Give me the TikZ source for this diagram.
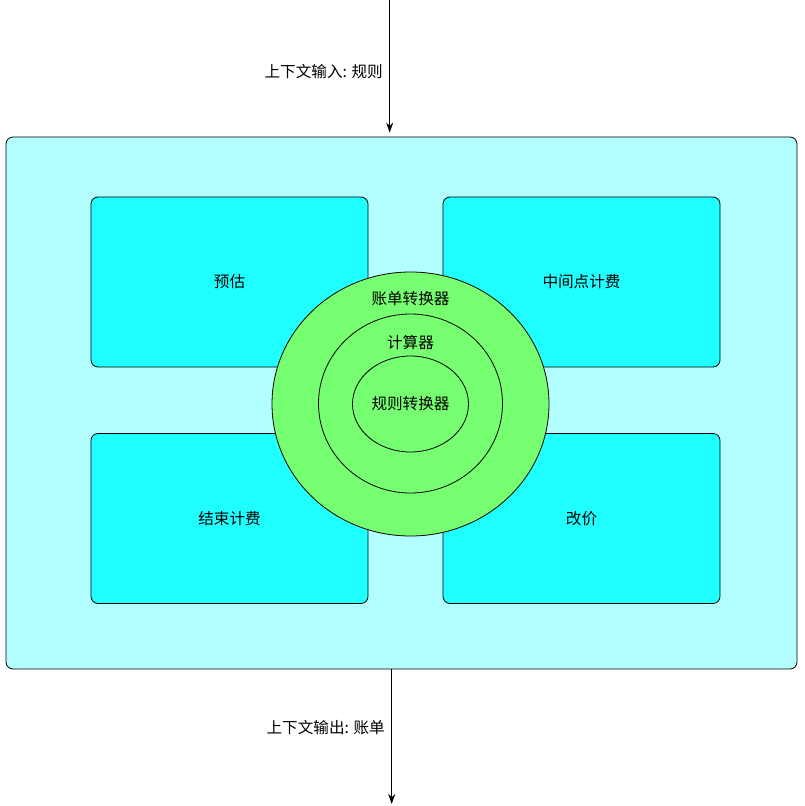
\documentclass[tikz,border=0pt]{standalone}
\usepackage{fontspec}
\newfontfamily\cjk{Noto Sans CJK SC}
\usetikzlibrary{shapes.geometric, arrows.meta}

\definecolor{paleaqua}{RGB}{179,255,255}
\definecolor{aqua}{RGB}{32,255,255}
\definecolor{ringgreen}{RGB}{118,255,112}

\tikzstyle{context} = [
    rectangle,
    rounded corners=7pt,
    minimum width=791pt,
    minimum height=532pt,
    draw=black,
    fill=paleaqua
]
\tikzstyle{stage} = [
    rectangle,
    rounded corners=7pt,
    minimum width=277pt,
    minimum height=170pt,
    draw=black,
    fill=aqua
]
\tikzstyle{ring} = [
    ellipse,
    inner sep=0pt,
    draw=black,
    fill=ringgreen
]
\tikzstyle{ctxtext} = [font=\cjk\fontsize{15.6}{18}\selectfont]
\tikzstyle{arrow} = [line width=0.8pt,-{Stealth[length=10pt,width=7pt]}]

\begin{document}
\begin{tikzpicture}[x=1pt, y=-1pt, node distance=236.5pt, line width=0.8pt, every node/.style={ctxtext}]

\useasboundingbox (0,0) rectangle (804,806);

\node (context) [context] at (401.5,403) {};

\node (estimate) [stage] at (229.5,282) {预估};

\node (midcharge) [stage, right of=estimate, xshift=115.5pt]
{中间点计费};

\node (endcharge) [stage, below of=estimate]
{结束计费};

\node (reprice) [stage, right of=endcharge, xshift=115.5pt]
{改价};

\node (billconv) [ring, minimum width=277pt, minimum height=264pt]
at (410.5,404) {};
\node (calc) [ring, minimum width=184pt, minimum height=179pt]
at (410.5,403.5) {};
\node (ruleconv) [ring, minimum width=116pt, minimum height=96pt]
at (410.5,404) {规则转换器};

\node (billtext) at ([yshift=-27pt]billconv.north) {账单转换器};
\node (calctext) at ([yshift=-29pt]calc.north) {计算器};

\coordinate (in) at (389.7,0);
\coordinate (out) at (391.7,804);

\draw [arrow, shorten >=4pt] (in) -- node[left, inner sep=6.5pt, pos=0.52]{上下文输入: 规则} (in |- context.north);
\draw [arrow] (out |- context.south) -- node[left, inner sep=6.5pt, pos=0.43]{上下文输出: 账单} (out);

\end{tikzpicture}
\end{document}
